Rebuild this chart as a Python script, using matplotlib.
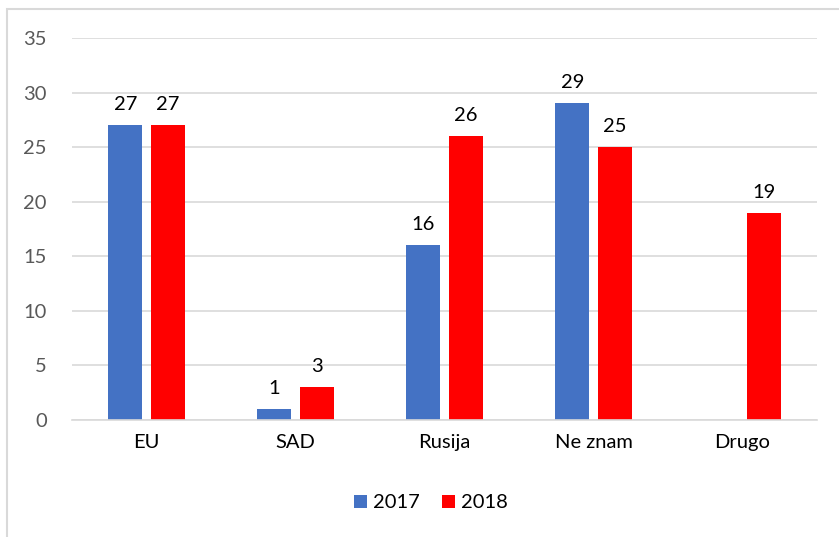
import numpy as np
import matplotlib
matplotlib.use("Agg")
import matplotlib.pyplot as plt
from matplotlib.patches import Rectangle

categories = ["EU", "SAD", "Rusija", "Ne znam", "Drugo"]
values_2017 = [27, 1, 16, 29, np.nan]
values_2018 = [27, 3, 26, 25, 19]
y_ticks = [0, 5, 10, 15, 20, 25, 30, 35]

BLUE = "#4472C4"
RED = "#FF0000"
GRID = "#D9D9D9"
FS = 14.5

plt.rcParams['font.family'] = ['Lato', 'DejaVu Sans']

fig = plt.figure(figsize=(8.39, 5.37), dpi=100)
# chart border (runs off the right and bottom edges like the reference)
fig.patches.append(Rectangle((7 / 839, -0.05), 1.1, 1 - 9 / 537 + 0.05,
                             transform=fig.transFigure, fill=False,
                             edgecolor=GRID, linewidth=1.5))

ax = fig.add_axes([72 / 839, 1 - 420 / 537, (817 - 72) / 839, (420 - 38) / 537])

x = np.arange(len(categories))
w = 0.228
off = 0.143
b1 = ax.bar(x - off, values_2017, w, color=BLUE, label="2017")
b2 = ax.bar(x + off, values_2018, w, color=RED, label="2018")

for bars, vals in ((b1, values_2017), (b2, values_2018)):
    for rect, v in zip(bars, vals):
        if np.isnan(v):
            continue
        ax.text(rect.get_x() + rect.get_width() / 2, v + 1.1, f"{v:g}",
                ha="center", va="bottom", fontsize=FS, color="black")

ax.set_xlim(-0.5, len(categories) - 0.5)
ax.set_ylim(0, 35)
ax.set_yticks(y_ticks)
ax.yaxis.grid(True, color=GRID, linewidth=1.2)
ax.set_axisbelow(True)
for s in ["top", "right", "left"]:
    ax.spines[s].set_visible(False)
ax.spines["bottom"].set_color(GRID)
ax.spines["bottom"].set_linewidth(1.2)
ax.tick_params(axis="both", length=0, labelsize=FS)
ax.tick_params(axis="y", colors="#595959", pad=18)
ax.tick_params(axis="x", colors="black", pad=10)
ax.set_xticks(x)
ax.set_xticklabels(categories)

leg = fig.legend(loc="center", bbox_to_anchor=(0.514, 1 - 503 / 537), ncol=2,
                 frameon=False, fontsize=FS, handlelength=0.65, handleheight=0.65,
                 handletextpad=0.3, columnspacing=1.1)

fig.savefig("out.png", dpi=100)
